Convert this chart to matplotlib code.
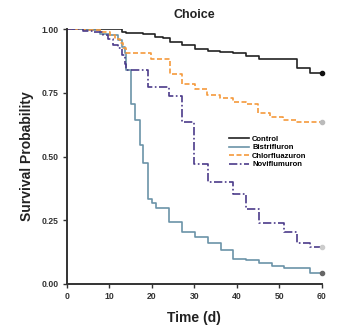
import numpy as np
import matplotlib
matplotlib.use('Agg')
import matplotlib.pyplot as plt

plt.rcParams['font.family'] = ['Liberation Sans', 'DejaVu Sans']
plt.rcParams['font.weight'] = 'bold'

# Kaplan-Meier style step curves (time in days, survival)
control_t = [0, 12.9, 14, 18, 20.7, 22.6, 24.2, 27, 30.1, 33.1, 36, 39.1, 42.2, 45.2, 54.2, 57.2, 60]
control_s = [1, 0.988, 0.983, 0.979, 0.97, 0.964, 0.95, 0.937, 0.922, 0.915, 0.91, 0.905, 0.895, 0.882, 0.848, 0.826, 0.826]

bistri_t = [0, 4, 7.8, 10, 12, 12.9, 13.6, 14, 15.1, 16, 17.2, 18, 19.1, 20.1, 20.9, 24.1, 27.1,
            30.1, 33.1, 36.2, 39.1, 42.1, 45.2, 48.2, 51.1, 57.2, 60]
bistri_s = [1, 0.995, 0.98, 0.975, 0.957, 0.93, 0.905, 0.84, 0.706, 0.643, 0.545, 0.476, 0.333, 0.316,
            0.297, 0.242, 0.203, 0.183, 0.16, 0.133, 0.1, 0.094, 0.081, 0.072, 0.061, 0.042, 0.042]

chlor_t = [0, 4, 8.2, 10.1, 11.3, 12.5, 13.3, 14, 19.8, 24.2, 27, 30.1, 33, 36, 39, 42.1, 45, 47.9, 50.9, 53.9, 60]
chlor_s = [1, 0.997, 0.99, 0.976, 0.963, 0.944, 0.924, 0.905, 0.882, 0.822, 0.786, 0.765, 0.741, 0.728,
           0.715, 0.706, 0.669, 0.654, 0.643, 0.637, 0.637]

novi_t = [0, 3.8, 6.1, 8.5, 9.6, 10.8, 12, 12.9, 13.6, 14, 19.1, 24.1, 27.1, 29.9, 33.1, 39.1, 42.1,
          45.1, 51.2, 54.1, 57.2, 60]
novi_s = [1, 0.994, 0.99, 0.976, 0.96, 0.937, 0.924, 0.898, 0.865, 0.838, 0.772, 0.737, 0.634, 0.469,
          0.4, 0.355, 0.293, 0.238, 0.205, 0.16, 0.147, 0.147]

series = [
    ('Control', control_t, control_s, '#222222', '-', '#111111'),
    ('Bistrifluron', bistri_t, bistri_s, '#6b93a8', '-', '#666666'),
    ('Chlorfluazuron', chlor_t, chlor_s, '#f59a3c', (0, (3, 1.5)), '#bbbbbb'),
    ('Noviflumuron', novi_t, novi_s, '#4b3b8a', (0, (5, 1.5, 1, 1.5)), '#cccccc'),
]

fig = plt.figure(figsize=(3.41, 3.31), dpi=100)
ax = fig.add_axes([0.196, 0.142, 0.748, 0.77])

for name, t, s, col, ls, mcol in series:
    ax.plot(t, s, drawstyle='steps-post', color=col, linestyle=ls, lw=1.2, label=name)
    ax.plot(t[-1], s[-1], 'o', color=mcol, ms=3, zorder=5, clip_on=False)

ax.set_xlim(0, 60)
ax.set_ylim(0, 1)
ax.set_xticks(np.arange(0, 61, 10))
ax.set_yticks([0, 0.25, 0.5, 0.75, 1.0])
ax.set_yticklabels(['0.00', '0.25', '0.50', '0.75', '1.00'])
ax.tick_params(labelsize=6.2, width=1, length=3, colors='#333333', pad=3)
for sp in ['top', 'right']:
    ax.spines[sp].set_visible(False)
for sp in ['left', 'bottom']:
    ax.spines[sp].set_linewidth(1.4)
    ax.spines[sp].set_color('#333333')

ax.set_title('Choice', fontsize=9, fontweight='bold', color='#222222', pad=8)
ax.set_xlabel('Time (d)', fontsize=10, fontweight='bold', color='#222222', labelpad=7)
ax.set_ylabel('Survival Probability', fontsize=10, fontweight='bold', color='#222222', labelpad=5)

ax.legend(loc='upper left', bbox_to_anchor=(0.625, 0.595), frameon=False, fontsize=5.5,
          handlelength=2.6, labelspacing=0.15, handletextpad=0.4, borderaxespad=0)

plt.savefig('out.png', dpi=100)
